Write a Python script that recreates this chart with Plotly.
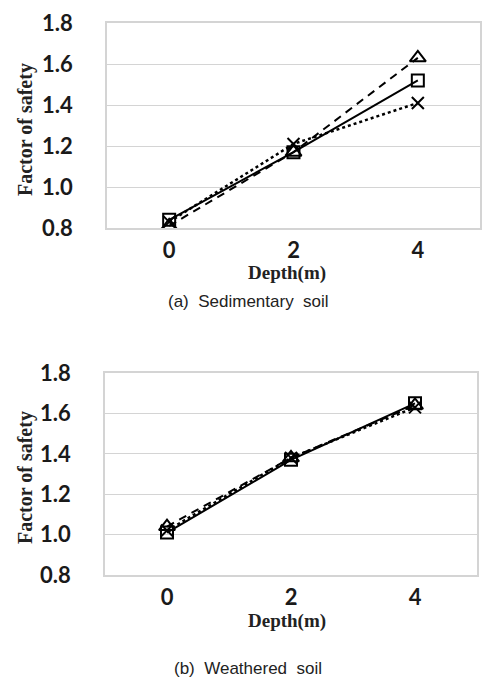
import plotly.graph_objects as go

depth = ["0", "2", "4"]

# (a) Sedimentary soil
sed_square = [0.84, 1.17, 1.52]
sed_triangle = [0.81, 1.17, 1.63]
sed_cross = [0.83, 1.21, 1.41]

# (b) Weathered soil
wea_square = [1.01, 1.37, 1.65]
wea_triangle = [1.04, 1.38, 1.64]
wea_cross = [1.02, 1.38, 1.63]

y_ticks = [0.8, 1.0, 1.2, 1.4, 1.6, 1.8]

W, H = 488, 679

def px_x(a, b):
    return [a / W, b / W]

def px_y(top, bottom):
    return [1 - bottom / H, 1 - top / H]

fig = go.Figure()

series_style = [
    ("square-open", "solid", 2, 12),
    ("triangle-up-open", "8px,6px", 2, 14),
    ("x-thin-open", "dot", 2.5, 12),
]

panels = [
    ("x", "y", [sed_square, sed_triangle, sed_cross]),
    ("x2", "y2", [wea_square, wea_triangle, wea_cross]),
]

for xa, ya, data in panels:
    for vals, (sym, dash, lw, ms) in zip(data, series_style):
        fig.add_trace(go.Scatter(
            x=depth, y=vals, xaxis=xa, yaxis=ya, mode="lines+markers",
            line=dict(color="black", width=lw, dash=dash),
            marker=dict(symbol=sym, size=ms, color="black",
                        line=dict(color="black", width=2)),
            showlegend=False,
        ))

tickfont = dict(family="Lato", size=22, color="#1a1a1a", weight="bold")
axis_common_y = dict(
    range=[0.8, 1.8], tickvals=y_ticks, ticktext=[f"{v:.1f}" for v in y_ticks],
    showgrid=True, gridcolor="#d4d4d4", gridwidth=1.2,
    showline=True, linecolor="#d4d4d4", linewidth=1.5, mirror=True,
    zeroline=False, tickfont=tickfont, ticks="", ticklabelstandoff=28,
    automargin=False,
)
axis_common_x = dict(
    type="category", range=[-0.5, 2.5], showgrid=False,
    showline=True, linecolor="#d4d4d4", linewidth=1.5, mirror=True,
    zeroline=False, tickfont=tickfont, ticks="", ticklabelstandoff=2,
    automargin=False,
)

fig.update_layout(
    width=W, height=H, margin=dict(l=0, r=0, t=0, b=0, autoexpand=False),
    paper_bgcolor="white", plot_bgcolor="white",
    xaxis=dict(domain=px_x(107, 480), anchor="y", **axis_common_x),
    yaxis=dict(domain=px_y(23, 228), anchor="x", **axis_common_y),
    xaxis2=dict(domain=px_x(105, 477), anchor="y2", **axis_common_x),
    yaxis2=dict(domain=px_y(373, 575), anchor="x2", **axis_common_y),
)

serif = dict(family="Liberation Serif", size=19, color="#222222", weight="bold")
cap = dict(family="Liberation Sans", size=17, color="#222222")

annots = [
    ("Depth(m)", 287, 273, 0, serif),
    ("Factor of safety", 25, 130, -90, dict(serif, size=20)),
    ("(a)  Sedimentary  soil", 248, 301, 0, cap),
    ("Depth(m)", 287, 621, 0, serif),
    ("Factor of safety", 25, 478, -90, dict(serif, size=20)),
    ("(b)  Weathered  soil", 248, 668, 0, cap),
]
for text, x, y, ang, font in annots:
    fig.add_annotation(
        text=text, x=x / W, y=1 - y / H, xref="paper", yref="paper",
        showarrow=False, textangle=ang, font=font,
        xanchor="center", yanchor="middle",
    )

fig.write_html("out.html")
